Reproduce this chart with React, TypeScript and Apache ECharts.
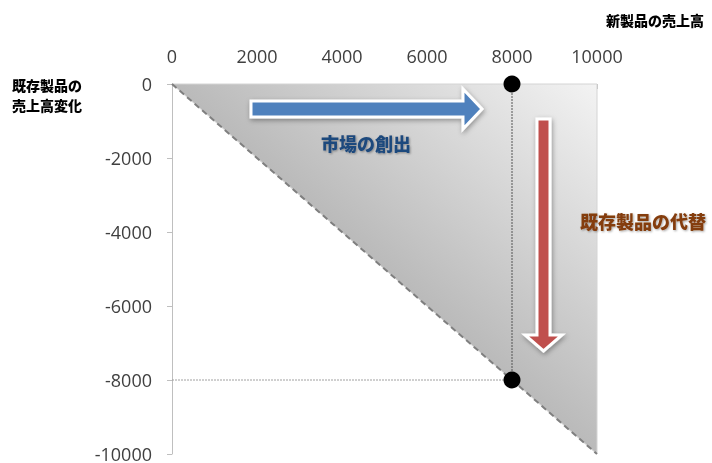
import React, { useEffect, useRef } from "react";
import * as echarts from "echarts";

// Market area triangle (new product sales vs change in existing product sales)
const triangleX = [0, 10000, 10000];
const triangleY = [0, 0, -10000];
// Full cannibalisation boundary
const diagonalX = [0, 10000];
const diagonalY = [0, -10000];
// Highlighted scenario
const newProductSales = 8000;
const existingChange = -8000;
const pointsX = [newProductSales, newProductSales];
const pointsY = [0, existingChange];

const xTitle = "新製品の売上高";
const yTitleLines = ["既存製品の", "売上高変化"];
const labelCreation = "市場の創出";
const labelSubstitution = "既存製品の代替";

const CJK = "'Noto Sans CJK JP', sans-serif";

export default function App() {
  const ref = useRef<HTMLDivElement>(null);
  useEffect(() => {
    if (!ref.current) return;
    const chart = echarts.init(ref.current, null, { renderer: "svg" });
    const fill = new echarts.graphic.LinearGradient(0, 1, 1, 0, [
      { offset: 0, color: "#9a9a9a" },
      { offset: 0.5, color: "#bababa" },
      { offset: 1, color: "#f3f3f3" },
    ]);
    const fmt = (v: number) => String(v);
    chart.setOption({
      animation: false,
      grid: { left: 172, right: 115, top: 84, bottom: 6, containLabel: false },
      xAxis: {
        type: "value",
        position: "top",
        min: 0,
        max: 10000,
        interval: 2000,
        splitLine: { show: false },
        axisLine: { show: true, lineStyle: { color: "#bfbfbf" } },
        axisTick: { show: true, inside: true, length: 5, lineStyle: { color: "#bfbfbf" } },
        axisLabel: { margin: 19, color: "#404040", fontSize: 18, fontFamily: "'Open Sans', sans-serif", formatter: fmt },
      },
      yAxis: {
        type: "value",
        min: -10000,
        max: 0,
        interval: 2000,
        splitLine: { show: false },
        axisLine: { show: true, lineStyle: { color: "#bfbfbf" } },
        axisTick: { show: true, inside: false, length: 5, lineStyle: { color: "#bfbfbf" } },
        axisLabel: { margin: 20, color: "#404040", fontSize: 18, fontFamily: "'Open Sans', sans-serif", formatter: fmt },
      },
      series: [
        {
          type: "custom",
          z: 1,
          data: triangleX.map((x, i) => [x, triangleY[i]]),
          renderItem: (params: any, api: any) => {
            if (params.dataIndex !== 0) return null;
            const pts = triangleX.map((x, i) => api.coord([x, triangleY[i]]));
            return {
              type: "polygon",
              shape: { points: pts },
              style: { fill, stroke: "#d4d4d4", lineWidth: 1 },
            };
          },
        },
        {
          type: "line",
          z: 2,
          data: diagonalX.map((x, i) => [x, diagonalY[i]]),
          symbol: "none",
          lineStyle: { color: "#7f7f7f", width: 2, type: [6, 4] },
        },
        {
          type: "line",
          z: 3,
          data: [[0, existingChange], [newProductSales, existingChange]],
          symbol: "none",
          lineStyle: { color: "#a0a0a0", width: 1, type: [2, 1] },
        },
        {
          type: "line",
          z: 3,
          data: [[newProductSales, 0], [newProductSales, existingChange]],
          symbol: "none",
          lineStyle: { color: "#555555", width: 1, type: [2, 1] },
        },
        {
          type: "scatter",
          z: 5,
          data: pointsX.map((x, i) => [x, pointsY[i]]),
          symbol: "circle",
          symbolSize: 17,
          itemStyle: { color: "#000000", opacity: 1 },
        },
      ],
      graphic: [
        {
          type: "polygon",
          z: 10,
          shape: {
            points: [[251, 101], [463, 101], [463, 89], [482, 109], [463, 129], [463, 117], [251, 117]],
          },
          style: {
            fill: "#4f81bd",
            stroke: "#ffffff",
            lineWidth: 3,
            shadowBlur: 5,
            shadowColor: "rgba(0,0,0,0.35)",
            shadowOffsetX: 1,
            shadowOffsetY: 2,
          },
        },
        {
          type: "polygon",
          z: 10,
          shape: {
            points: [[537, 119], [550, 119], [550, 335], [562, 335], [543.5, 351], [525, 335], [537, 335]],
          },
          style: {
            fill: "#c0504d",
            stroke: "#ffffff",
            lineWidth: 3,
            shadowBlur: 5,
            shadowColor: "rgba(0,0,0,0.35)",
            shadowOffsetX: 1,
            shadowOffsetY: 2,
          },
        },
        {
          type: "text",
          z: 11,
          x: 366,
          y: 143,
          style: {
            text: labelCreation,
            fill: "#1f497d",
            font: `900 18px ${CJK}`,
            align: "center",
            verticalAlign: "middle",
            textShadowColor: "rgba(0,0,0,0.35)",
            textShadowBlur: 2,
            textShadowOffsetX: 1,
            textShadowOffsetY: 1,
          },
        },
        {
          type: "text",
          z: 11,
          x: 643,
          y: 221,
          style: {
            text: labelSubstitution,
            fill: "#843c0c",
            font: `900 18px ${CJK}`,
            align: "center",
            verticalAlign: "middle",
            textShadowColor: "rgba(0,0,0,0.35)",
            textShadowBlur: 2,
            textShadowOffsetX: 1,
            textShadowOffsetY: 1,
          },
        },
        {
          type: "text",
          z: 11,
          x: 655,
          y: 20,
          style: {
            text: xTitle,
            fill: "#000000",
            font: `900 14px ${CJK}`,
            align: "center",
            verticalAlign: "middle",
          },
        },
        ...yTitleLines.map((line, i) => ({
          type: "text",
          z: 11,
          x: 12,
          y: 85 + i * 20,
          style: {
            text: line,
            fill: "#000000",
            font: `900 14px ${CJK}`,
            align: "left",
            verticalAlign: "middle",
          },
        })),
      ],
    });
    return () => chart.dispose();
  }, []);
  return (
    <div
      ref={ref}
      style={{ position: "fixed", left: 0, top: 0, width: 712, height: 463 }}
    />
  );
}
